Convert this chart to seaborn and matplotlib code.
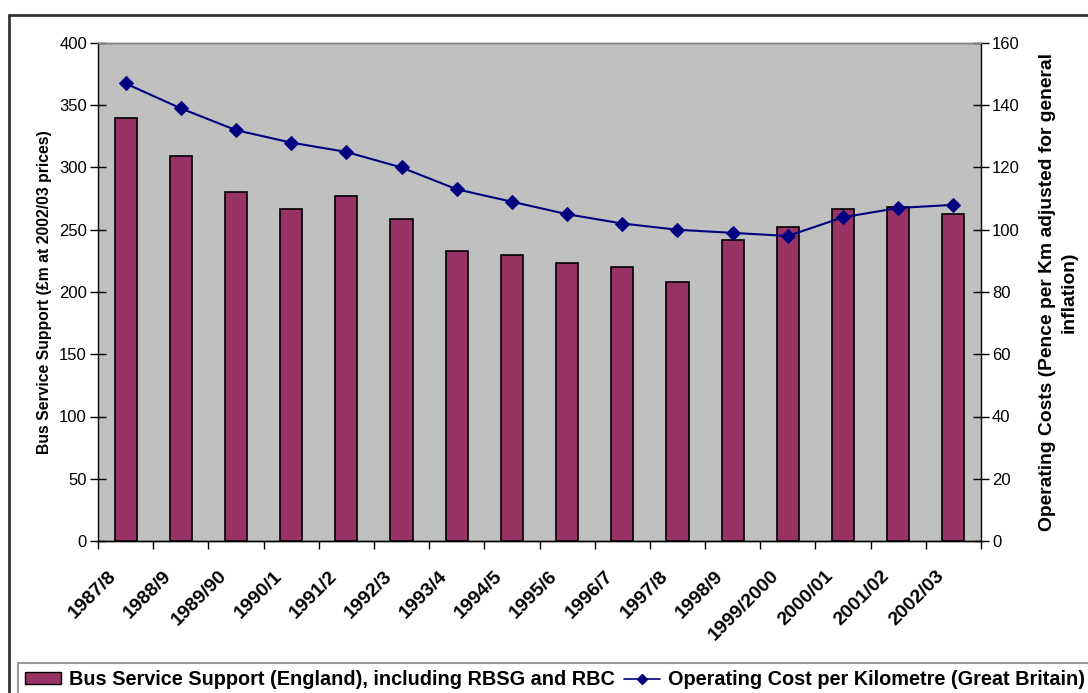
import numpy as np
import pandas as pd
import matplotlib
matplotlib.use("Agg")
import matplotlib.pyplot as plt
import matplotlib.transforms as mtransforms
from matplotlib.lines import Line2D
from matplotlib.patches import Patch
import seaborn as sns

years = ["1987/8", "1988/9", "1989/90", "1990/1", "1991/2", "1992/3", "1993/4",
         "1994/5", "1995/6", "1996/7", "1997/8", "1998/9", "1999/2000",
         "2000/01", "2001/02", "2002/03"]
support = [340, 309, 280, 267, 277, 259, 233, 230, 223, 220, 208, 242, 252,
           267, 268, 263]
op_cost = [147, 139, 132, 128, 125, 120, 113, 109, 105, 102, 100, 99, 98,
           104, 107, 108]

bar_label = "Bus Service Support (England), including RBSG and RBC"
line_label = "Operating Cost per Kilometre (Great Britain)"

sns.set_theme(style="white")
plt.rcParams["font.family"] = ["Liberation Sans", "DejaVu Sans"]
plt.rcParams.update({"text.color": "black", "axes.labelcolor": "black",
                     "xtick.color": "black", "ytick.color": "black"})

bar_color = "#993366"
line_color = "#000080"

fig = plt.figure(figsize=(10.88, 6.93), dpi=100)
ax = fig.add_axes([98 / 1088, 1 - 541 / 693, (981 - 98) / 1088, (541 - 43) / 693])
ax.set_facecolor("#C0C0C0")

df = pd.DataFrame({"year": years, "support": support, "cost": op_cost})
sns.barplot(data=df, x="year", y="support", ax=ax, color=bar_color,
            saturation=1, width=0.4, edgecolor="black", linewidth=1.2)

ax2 = ax.twinx()
sns.lineplot(x=np.arange(len(years)), y=op_cost, ax=ax2, color=line_color,
             marker="D", markersize=7, markeredgecolor=line_color,
             linewidth=1.5)

n = len(years)
ax.set_xlim(-0.5, n - 0.5)
ax.set_ylim(0, 400)
ax2.set_ylim(0, 160)
ax.set_yticks(np.arange(0, 401, 50))
ax2.set_yticks(np.arange(0, 161, 20))

# tick marks sit between categories, labels at the centres
ax.set_xticks(np.arange(n))
ax.set_xticks(np.arange(-0.5, n, 1), minor=True)
ax.tick_params(axis="x", which="major", length=0, pad=4)
ax.tick_params(axis="x", which="minor", length=6, width=1, direction="out",
               color="black", bottom=True)
ax.set_xticklabels(years, rotation=45, ha="right", rotation_mode="anchor",
                   fontsize=14, fontweight="bold")
offset = mtransforms.ScaledTranslation(-18 / 100, -21 / 100, fig.dpi_scale_trans)
for lbl in ax.get_xticklabels():
    lbl.set_transform(lbl.get_transform() + offset)

ax.tick_params(axis="y", which="major", direction="inout", length=12, width=1,
               color="black", left=True, labelsize=12, pad=2)
ax2.tick_params(axis="y", which="major", direction="inout", length=12, width=1,
                color="black", right=True, labelsize=12, pad=2)

ax.set_xlabel("")
ax.set_ylabel("Bus Service Support (£m at 2002/03 prices)", fontsize=11.3,
              fontweight="bold", labelpad=5)
ax2.set_ylabel("Operating Costs (Pence per Km adjusted for general\ninflation)",
               fontsize=13.9, fontweight="bold", labelpad=14, linespacing=1.3)

for a in (ax, ax2):
    for side in ("left", "right", "bottom"):
        a.spines[side].set_color("black")
        a.spines[side].set_linewidth(1)
    a.spines["top"].set_color("#808080")
    a.spines["top"].set_linewidth(1)
ax2.spines["left"].set_visible(False)
ax.spines["right"].set_visible(False)

# outer frame of the chart area
fig.add_artist(Line2D([9 / 1088, 1.0], [1 - 15 / 693, 1 - 15 / 693],
                      transform=fig.transFigure, color="#333333", linewidth=2))
fig.add_artist(Line2D([9 / 1088, 9 / 1088], [1 - 15 / 693, 0.0],
                      transform=fig.transFigure, color="#333333", linewidth=2))

handles = [Patch(facecolor=bar_color, edgecolor="black", linewidth=1),
           Line2D([], [], color=line_color, marker="D", markersize=5,
                  linewidth=1.2)]
leg = fig.legend(handles, [bar_label, line_label], loc="upper left",
                 bbox_to_anchor=(18 / 1088, 1 - 663 / 693), ncol=2,
                 borderaxespad=0, frameon=True, fancybox=False, borderpad=0.35,
                 columnspacing=0.5, handlelength=1.8, handleheight=0.5,
                 handletextpad=0.4, prop={"size": 14.3, "weight": "bold"})
leg.get_frame().set_edgecolor("#808080")
leg.get_frame().set_linewidth(1.5)

fig.savefig("out.png", dpi=100, facecolor="white")
